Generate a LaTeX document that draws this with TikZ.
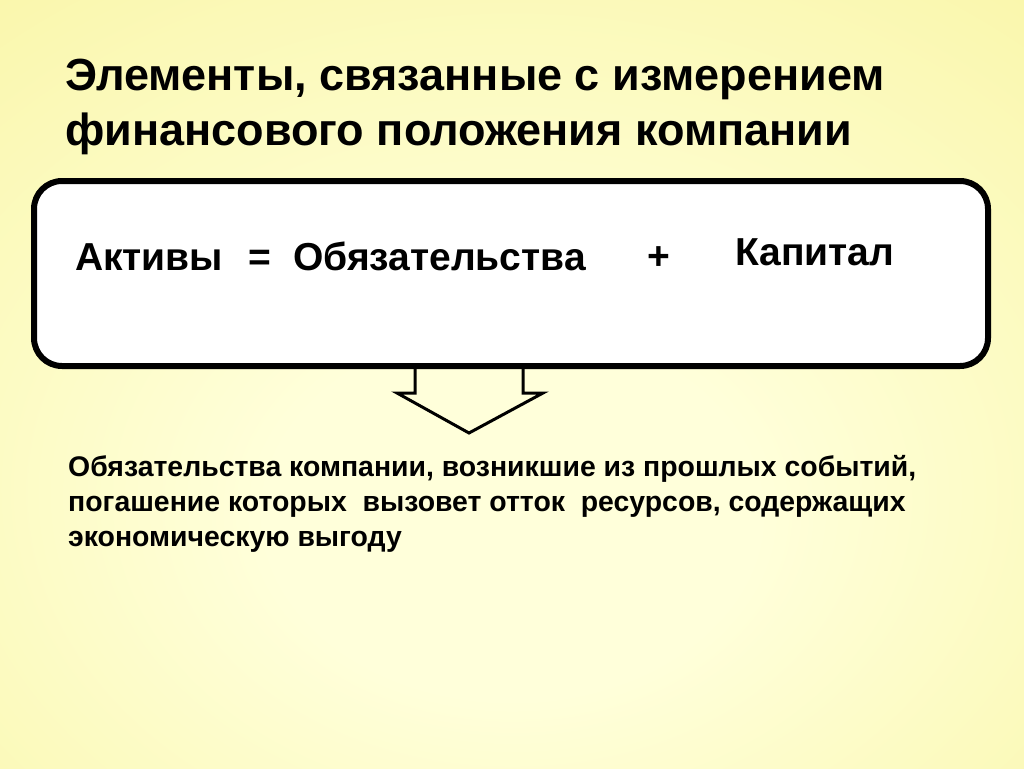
\documentclass[tikz,border=0pt]{standalone}
\usepackage{fontspec}
\setmainfont{Liberation Sans}
\usepackage{xcolor}
\usetikzlibrary{positioning}
\definecolor{bgin}{RGB}{255,255,218}
\definecolor{bgout}{RGB}{245,240,135}
\pgfdeclareradialshading{slidebg}{\pgfpoint{0bp}{-10bp}}{color(0bp)=(bgin); color(12bp)=(bgin); color(62bp)=(bgout); color(80bp)=(bgout)}
\tikzset{
  titletext/.style={anchor=base west, inner sep=0pt, font=\bfseries\fontsize{45}{52}\selectfont},
  eqtext/.style={anchor=base west, inner sep=0pt, font=\bfseries\fontsize{39}{44}\selectfont},
  bodytext/.style={anchor=base west, inner sep=0pt, font=\bfseries\fontsize{28.4}{35}\selectfont},
  framebox/.style={draw, line width=6pt, rounded corners=28pt, fill=white}
}
\begin{document}
\begin{tikzpicture}[x=1pt,y=-1pt]
\useasboundingbox (0,0) rectangle (1024,768);
\shade[shading=slidebg] (0,0) rectangle (1024,768);
% title
\node [titletext] (title1) at (65,90) {Элементы, связанные с измерением};
\node [titletext] (title2) at (65,145) {финансового положения компании};
% equation box
\draw [framebox] (34,181) rectangle (988,366);
\node [eqtext] (assets) at (75,270) {Активы};
\node [eqtext] (equals) at (248,270) {=};
\node [eqtext] (liabs) at (293,270) {Обязательства};
\node [eqtext] (plus) at (647,269) {+};
\node [eqtext] (equity) at (735,265) {Капитал};
% block arrow
\draw [line width=3pt, line join=miter] (415,367) -- (415,393) -- (397,393) -- (469,433)
  -- (543,393) -- (523,393) -- (523,367);
% definition
\node [bodytext] (liab1) at (68,476) {Обязательства компании, возникшие из прошлых событий,};
\node [bodytext] (liab2) at (68,511) {погашение которых~ вызовет отток~ ресурсов, содержащих};
\node [bodytext] (liab3) at (68,546) {экономическую выгоду};
\end{tikzpicture}
\end{document}
